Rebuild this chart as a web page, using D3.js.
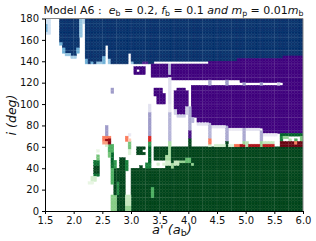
<!DOCTYPE html>
<html>
<head>
<meta charset="utf-8">
<script src="https://d3js.org/d3.v7.min.js"></script>
<style>
  html, body { margin: 0; padding: 0; background: #fff; }
  text { font-family: "DejaVu Sans", sans-serif; }
</style>
</head>
<body>
<div id="chart"></div>
<script>
// Grid steps of the map
var da = 0.05;
var di = 2.5;

var xTicks = [1.5, 2.0, 2.5, 3.0, 3.5, 4.0, 4.5, 5.0, 5.5, 6.0];
var yTicks = [0, 20, 40, 60, 80, 100, 120, 140, 160, 180];

// Faint lines that show through the map
var xSeams = [1.75, 2.0, 2.25, 2.5, 2.75, 3.0, 3.25, 3.5, 3.75, 4.0, 4.25, 4.5, 4.75, 5.0, 5.25, 5.5, 5.75];
var ySeams = [12.5, 25, 37.5, 50, 62.5, 75, 87.5, 100, 112.5, 125, 137.5, 150, 162.5, 175];

// All spans below are [a from, a to, i from, i to, shade 0-1], later ones paint over earlier ones
var blueSpans = [
  [1.5, 1.6, 165, 180, 0.2], [1.5, 1.55, 167.5, 175, 0.5],
  [1.75, 1.8, 157.5, 180, 1], [1.8, 1.85, 152.5, 180, 1], [1.85, 1.95, 147.5, 180, 1],
  [1.95, 2.05, 145, 180, 1], [2.05, 2.1, 152.5, 180, 1],
  [1.75, 1.8, 155, 157.5, 0.5], [1.8, 1.85, 147.5, 152.5, 0.5], [1.85, 1.95, 145, 147.5, 0.4],
  [1.95, 2.05, 142.5, 145, 0.35], [2.05, 2.1, 147.5, 152.5, 0.5],
  [2.1, 2.15, 162.5, 180, 0.4], [2.15, 2.2, 175, 180, 0.3],
  [2.2, 3.4, 137.5, 180, 1], [3.4, 4.85, 140, 180, 1], [4.85, 5.65, 142.5, 180, 1], [5.65, 6, 145, 180, 1],
  [2.2, 2.25, 137.5, 142.5, 0.5], [2.3, 2.35, 137.5, 140, 0.5], [2.4, 2.5, 137.5, 140, 0.4],
  [2.5, 2.55, 137.5, 145, 0.5], [2.6, 2.65, 137.5, 142.5, 0.4], [3.0, 3.05, 137.5, 140, 0.4]
];

var purpleSpans = [
  [3.35, 4.05, 125, 137.5, 1], [3.7, 4.05, 122.5, 125, 1], [4.05, 4.15, 87.5, 137.5, 1], [4.15, 4.35, 82.5, 137.5, 1],
  [4.35, 4.65, 80, 140, 1], [4.65, 4.85, 77.5, 140, 1], [4.85, 5.3, 77.5, 142.5, 1],
  [5.3, 5.65, 72.5, 142.5, 1], [5.65, 6, 72.5, 145, 1],
  [3.05, 3.25, 127.5, 135, 1], [3.2, 3.3, 137.5, 140, 0.9],
  [3.8, 3.95, 90, 115, 1], [3.75, 3.8, 95, 112.5, 1], [3.95, 4.0, 97.5, 112.5, 1],
  [3.75, 3.8, 90, 95, 0.3], [3.8, 3.95, 87.5, 90, 0.3],
  [3.4, 3.55, 107.5, 115, 1], [3.45, 3.6, 100, 110, 1], [2.65, 2.7, 110, 115, 0.5],
  [3.3, 3.35, 70, 92.5, 0.5], [3.3, 3.35, 92.5, 100, 0.2],
  [3.65, 3.7, 65, 92.5, 0.4], [3.65, 3.7, 92.5, 100, 0.15], [3.65, 3.7, 100, 125, 0.2],
  [3.65, 3.7, 127.5, 137.5, 0.4],
  [4.0, 4.05, 75, 97.5, 0.45], [4.0, 4.05, 67.5, 75, 0.95], [4.05, 4.1, 82.5, 87.5, 0.4],
  [3.95, 4.0, 90, 97.5, 0.3],
  [4.15, 4.35, 80, 82.5, 0.2], [4.4, 4.65, 77.5, 80, 0.2], [4.7, 4.95, 75, 77.5, 0.15],
  [5.0, 5.25, 75, 77.5, 0.2], [5.3, 5.55, 70, 72.5, 0.15],
  [4.35, 4.4, 67.5, 82.5, 0.4], [4.65, 4.7, 65, 80, 0.45], [4.95, 5.0, 65, 77.5, 0.45],
  [5.25, 5.3, 65, 75, 0.45],
  [2.55, 2.6, 70, 80, 0.5], [2.6, 2.65, 67.5, 70, 0.95], [2.95, 3.0, 70, 72.5, 0.15]
];

var greenSpans = [
  [3.4, 6, 0, 60, 1], [3.0, 3.4, 0, 40, 1], [2.75, 2.9, 0, 40, 1], [2.7, 2.75, 10, 40, 1],
  [2.8, 2.9, 40, 50, 1], [2.9, 2.95, 37.5, 47.5, 0.8], [3.15, 3.2, 40, 42.5, 1], [3.25, 3.35, 40, 45, 0.8],
  [2.73, 2.8, 15, 27.5, 0.75], [3.35, 3.4, 12.5, 22.5, 0.6],
  [2.9, 3.0, 0, 15, 0.25], [2.9, 3.0, 0, 5, 0.4],
  [2.35, 2.45, 32.5, 47.5, 0.85], [2.35, 2.45, 35, 42.5, 1], [2.4, 2.45, 47.5, 52.5, 0.5],
  [2.3, 2.4, 27.5, 32.5, 0.2], [2.4, 2.45, 55, 57.5, 0.1], [2.25, 2.35, 25, 27.5, 0.1],
  [2.6, 2.65, 55, 62.5, 0.6], [2.65, 2.7, 45, 55, 0.9], [2.6, 2.65, 50, 55, 0.5], [2.65, 2.7, 55, 62.5, 0.6],
  [2.7, 2.75, 40, 47.5, 0.7], [2.55, 2.6, 60, 62.5, 0.2], [2.65, 2.7, 40, 45, 0.85], [2.65, 2.7, 25, 40, 0.6],
  [2.65, 2.75, 0, 15, 0.45], [2.95, 3.0, 57.5, 65, 0.5], [2.95, 3.0, 52.5, 57.5, 0.15],
  [3.1, 3.25, 52.5, 60, 1], [3.3, 3.35, 60, 65, 0.7], [3.3, 3.35, 45, 60, 0.9],
  [3.6, 3.7, 47.5, 52.5, 0.35], [3.65, 3.7, 52.5, 65, 0.35],
  [5.6, 6, 70, 72.5, 0.9], [5.6, 5.65, 65, 70, 0.8], [5.85, 5.9, 65, 67.5, 0.6], [5.75, 5.8, 65, 67.5, 0.3],
  [5.65, 5.75, 67.5, 70, 0.4], [5.95, 6, 65, 70, 0.5],
  [4.0, 4.05, 60, 67.5, 1], [4.65, 4.7, 60, 65, 1], [4.95, 5.0, 60, 65, 0.4], [5.25, 5.3, 60, 65, 0.4],
  [4.35, 4.4, 60, 62.5, 0.2], [4.45, 4.65, 60, 62.5, 0.2], [4.7, 4.8, 60, 62.5, 0.15],
  [5.3, 5.5, 62.5, 65, 0.25], [5.0, 5.05, 60, 65, 0.3]
];

// White gaps, painted after blue, purple and the green base
var whiteSpans = [
  [2.55, 2.6, 137.5, 155], [2.95, 3.0, 137.5, 147.5], [3.1, 3.15, 130, 132.5],
  [4.05, 4.9, 117.5, 122.5], [4.9, 5.65, 117.5, 120],
  [3.2, 3.25, 55, 57.5], [3.4, 3.6, 40, 47.5]
];

var mottledGreen = [
  [3.6, 3.7, 42.5, 47.5, 0.2], [3.7, 3.75, 40, 45, 0.35], [3.75, 3.85, 42.5, 47.5, 0.25],
  [3.85, 3.95, 45, 47.5, 0.4], [3.95, 4.05, 45, 50, 0.55], [4.05, 4.1, 42.5, 45, 0.4],
  [3.45, 3.5, 42.5, 45, 0.2], [3.55, 3.6, 42.5, 45, 0.15]
];

var breakSpans = [
  [4.35, 4.4, 117.5, 122.5, 0.45], [4.65, 4.7, 117.5, 122.5, 0.5],
  [4.95, 5.0, 117.5, 120, 0.5], [5.25, 5.3, 117.5, 120, 0.5], [5.55, 5.6, 117.5, 120, 0.3]
];

var redSpans = [
  [2.5, 2.65, 65, 70, 0.45], [2.5, 2.6, 62.5, 65, 0.35], [2.55, 2.65, 65, 67.5, 0.9], [2.6, 2.65, 62.5, 65, 0.95],
  [2.9, 2.95, 65, 70, 0.45], [2.95, 3.0, 65, 67.5, 0.2], [3.3, 3.35, 65, 70, 0.7],
  [4.35, 4.4, 62.5, 67.5, 0.45], [4.8, 4.9, 60, 62.5, 0.5], [4.9, 5.0, 60, 62.5, 0.85],
  [5.05, 5.25, 60, 62.5, 0.85], [5.3, 5.5, 60, 62.5, 0.8], [5.6, 6, 60, 65, 1], [5.85, 5.9, 62.5, 65, 0.45]
];

var svgWidth = 316;
var svgHeight = 241;
var margin = { top: 18.5, right: 13, bottom: 30, left: 45 };
var chartWidth = svgWidth - margin.left - margin.right;
var chartHeight = svgHeight - margin.top - margin.bottom;

var svg = d3.select("#chart").append("svg")
  .attr("width", svgWidth)
  .attr("height", svgHeight)
  .style("display", "block");

// The reference is a shrunk raster, so soften the cells a little
var defs = svg.append("defs");
defs.append("filter").attr("id", "soft")
  .attr("x", "-2%").attr("y", "-2%").attr("width", "104%").attr("height", "104%")
  .append("feGaussianBlur").attr("stdDeviation", 0.45);
defs.append("clipPath").attr("id", "plotClip")
  .append("rect").attr("width", chartWidth).attr("height", chartHeight);

var chartGroup = svg.append("g")
  .attr("transform", `translate(${margin.left}, ${margin.top})`);

var xScale = d3.scaleLinear().domain([1.5, 6]).range([0, chartWidth]);
var yScale = d3.scaleLinear().domain([0, 180]).range([chartHeight, 0]);

// Paint the spans into one map of cells
var cells = new Map();
function paint(spans, ramp) {
  spans.forEach(function(s) {
    for (var c = Math.round((s[0] - 1.5) / da); c < Math.round((s[1] - 1.5) / da); c++) {
      for (var r = Math.round(s[2] / di); r < Math.round(s[3] / di); r++) {
        if (ramp) cells.set(c + "_" + r, { c: c, r: r, fill: ramp(s[4]) });
        else cells.delete(c + "_" + r);
      }
    }
  });
}
paint(blueSpans, d3.interpolateBlues);
paint(purpleSpans, d3.interpolatePurples);
paint(greenSpans, d3.interpolateGreens);
paint(whiteSpans, null);
paint(breakSpans, d3.interpolatePurples);
paint(mottledGreen, d3.interpolateGreens);
paint(redSpans, d3.interpolateReds);

var mapGroup = chartGroup.append("g").attr("clip-path", "url(#plotClip)")
  .append("g").attr("filter", "url(#soft)");

mapGroup.selectAll("rect.cell")
  .data(Array.from(cells.values()))
  .enter()
  .append("rect")
  .attr("class", "cell")
  .attr("x", d => xScale(1.5 + d.c * da))
  .attr("y", d => yScale((d.r + 1) * di))
  .attr("width", d => xScale(1.5 + (d.c + 1) * da) - xScale(1.5 + d.c * da))
  .attr("height", d => yScale(d.r * di) - yScale((d.r + 1) * di))
  .attr("fill", d => d.fill)
  .attr("stroke", d => d.fill)
  .attr("stroke-width", 0.4);

// Faint seams over the map, white so they vanish on the white parts
var seamGroup = chartGroup.append("g").attr("stroke", "#fff").attr("stroke-opacity", 0.1).attr("stroke-width", 1);
seamGroup.selectAll("line.xs").data(xSeams).enter().append("line")
  .attr("x1", d => xScale(d)).attr("x2", d => xScale(d)).attr("y1", 0).attr("y2", chartHeight);
seamGroup.selectAll("line.ys").data(ySeams).enter().append("line")
  .attr("x1", 0).attr("x2", chartWidth).attr("y1", d => yScale(d)).attr("y2", d => yScale(d));

// Axes
var xAxis = d3.axisBottom(xScale).tickValues(xTicks).tickFormat(d3.format(".1f")).tickSize(3).tickSizeOuter(0);
var yAxis = d3.axisLeft(yScale).tickValues(yTicks).tickSize(3).tickSizeOuter(0);

var gx = chartGroup.append("g").attr("transform", `translate(0, ${chartHeight})`).call(xAxis);
var gy = chartGroup.append("g").call(yAxis);
gx.selectAll("text").attr("font-size", 10).attr("font-family", "DejaVu Sans").attr("fill", "#111");
gy.selectAll("text").attr("font-size", 10).attr("font-family", "DejaVu Sans").attr("fill", "#111");

// Top and right spines are lighter in the picture
chartGroup.append("line").attr("x1", 0).attr("x2", chartWidth).attr("y1", 0).attr("y2", 0)
  .attr("stroke", "#888").attr("stroke-width", 1);
chartGroup.append("line").attr("x1", chartWidth).attr("x2", chartWidth).attr("y1", 0).attr("y2", chartHeight)
  .attr("stroke", "#888").attr("stroke-width", 1);

// Title with math parts
var titleParts = [
  ["Model A6 :  ", "normal", 0], ["e", "italic", 0], ["b", "normal", 1], [" = 0.2, ", "normal", 0],
  ["f", "italic", 0], ["b", "normal", 1], [" = 0.1 ", "normal", 0], ["and m", "italic", 0],
  ["p", "normal", 1], [" = 0.01", "normal", 0], ["m", "italic", 0], ["b", "normal", 1]
];
var title = svg.append("text").attr("x", 43.5).attr("y", 14).attr("font-size", 11).attr("fill", "#111")
  .style("white-space", "pre");
var prevSub = 0;
titleParts.forEach(function(p) {
  title.append("tspan")
    .attr("font-style", p[1])
    .attr("font-size", p[2] ? 7.8 : 11)
    .attr("dy", (p[2] - prevSub) * 2)
    .text(p[0]);
  prevSub = p[2];
});

// Axis labels
var xLabel = svg.append("text").attr("x", 172).attr("y", 234).attr("text-anchor", "middle")
  .attr("font-size", 13).attr("fill", "#111").style("white-space", "pre");
xLabel.append("tspan").attr("font-style", "italic").text("a' (a");
xLabel.append("tspan").attr("font-size", 9.5).attr("font-style", "normal").attr("dy", 2).text("b");
xLabel.append("tspan").attr("font-style", "italic").attr("dy", -2).text(")");

svg.append("text").attr("transform", "translate(16, 115) rotate(-90)").attr("text-anchor", "middle")
  .attr("font-size", 12.5).attr("font-style", "italic").attr("fill", "#111").text("i (deg)");
</script>
</body>
</html>
